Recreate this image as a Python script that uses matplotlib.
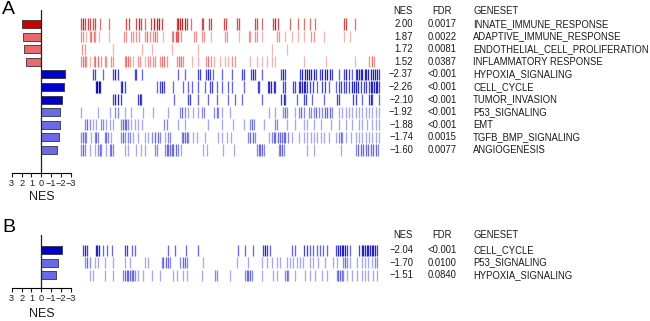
import matplotlib
matplotlib.use('Agg')
import matplotlib.pyplot as plt
import numpy as np

plt.rcParams.update({
    'font.family': ['Liberation Sans', 'DejaVu Sans'],
    'font.size': 6.85,
    'axes.unicode_minus': True,
})

W, H = 650, 321

# ── data: panel A ──
genesets_a = ['INNATE_IMMUNE_RESPONSE', 'ADAPTIVE_IMMUNE_RESPONSE',
              'ENDOTHELIAL_CELL_PROLIFERATION', 'INFLAMMATORY RESPONSE',
              'HYPOXIA_SIGNALING', 'CELL_CYCLE', 'TUMOR_INVASION',
              'P53_SIGNALING', 'EMT', 'TGFB_BMP_SIGNALING', 'ANGIOGENESIS']
nes_a = [2.00, 1.87, 1.72, 1.52, -2.37, -2.26, -2.10, -1.92, -1.88, -1.74, -1.60]
fdr_a = ['0.0017', '0.0022', '0.0081', '0.0387', '<0.001', '<0.001', '<0.001',
         '<0.001', '<0.001', '0.0015', '0.0077']
strong_a = [True, False, False, False, True, True, True, False, False, False, False]

# hit positions along the ranked list (same units as the barcode strip)
hits_a = [
    [81.3, 83, 84.7, 88, 89.7, 93, 95.3, 99.7, 109, 126.3, 128.7, 136.3, 138.7, 141.3, 144.7,
     151.3, 154, 156.7, 159, 161.7, 176.7, 178.3, 180, 182.3, 185, 186.7, 191, 201.7, 203.3,
     209.3, 211, 224.3, 225.7, 237, 238.7, 255.3, 257, 262, 272.7, 274.7, 277.7, 290.3, 298,
     303.7, 310.3, 314.7, 344, 345.7, 354.7],
    [81.3, 83, 86.3, 89.7, 91.3, 94, 95.3, 98.7, 108.7, 124, 126.3, 130.7, 133, 136.3, 138.7,
     144.7, 147.3, 149.7, 153, 154.7, 156.7, 163.3, 171.7, 173.3, 175.7, 176.7, 178.3, 181,
     194.3, 196, 202.3, 204.3, 211, 225, 226.7, 238.7, 248.7, 250.3, 255.3, 257, 262, 277,
     278.7, 285.3, 292, 298, 303.7, 311.3, 314, 324, 344, 349.7],
    [82, 84.7, 113, 141.7, 151.7, 171.7, 198.3, 271.5, 286.5],
    [81.3, 83, 84.7, 86.3, 89.7, 94, 95.3, 98, 100.7, 104.7, 106.3, 111.3, 113, 124.7, 126.3,
     128, 129.7, 133, 138, 139.7, 144.7, 148, 149.7, 153, 155.3, 160, 162.3, 164.3, 166.7,
     176.7, 179, 181, 183.3, 192.3, 198.3, 205.7, 208.3, 211, 214.3, 220, 225, 228.3, 232.3,
     235.3, 250.3, 257, 262, 267, 272, 275.3, 303.7, 325.7, 354.7, 369, 371.7, 374],
    [93, 94.7, 103, 113, 115.3, 118, 134.7, 136.3, 142.3, 177.7, 185, 198.3, 200, 205.7, 207.7,
     210, 213.3, 221.7, 232, 242, 243.7, 251.3, 252.7, 255.3, 262, 281.3, 282.7, 285.3, 300.3,
     302, 304.7, 307, 308.7, 311, 314, 316.3, 319.7, 322.3, 325, 327.3, 329.7, 331.7, 339, 344,
     346.3, 349, 352.3, 355.7, 357.3, 359, 360.7, 362.3, 365, 366.3, 368.3, 370.7, 373, 375,
     377.3, 379],
    [96.3, 97.3, 98.7, 99.7, 120.7, 122, 124.7, 156.7, 160, 162.3, 164.3, 173.3, 183.3, 188.3,
     192.3, 198.3, 205, 210, 212.3, 216.7, 221.7, 228.3, 232.3, 243.7, 258, 259.3, 268, 269.3,
     271.3, 273.7, 275.3, 282.7, 284.7, 292.7, 295.3, 298.7, 300.3, 302, 303.7, 305.3, 307,
     310.3, 313, 317.3, 322.3, 325, 329, 335.7, 339, 340.7, 344, 345.7, 349, 351.7, 354,
     355.7, 358.3, 360.7, 364, 365.7, 369, 370.7, 372.3, 374, 375.7, 377.3, 379],
    [113, 115.3, 118, 120.7, 138, 139.7, 141.3, 174.3, 188.3, 190, 197.7, 208.3, 216.7, 228.3,
     235.3, 242, 262, 281.3, 283.7, 285.3, 297, 303.7, 306, 312, 324, 337.3, 339, 353, 355.7,
     362.3, 369, 370.7, 372.3, 379],
    [81.3, 98, 109.7, 115.3, 118, 124.7, 131.3, 143, 153, 168.3, 180, 182.3, 185, 188.3, 193.3,
     198.3, 201.7, 204.3, 214.3, 216.7, 218.3, 221.7, 230, 268.7, 275.3, 282.7, 284.7, 287,
     295.3, 298.7, 301.3, 303.7, 308.7, 310.7, 314, 316.3, 319, 322.3, 325, 327.3, 329.7,
     332.3, 339, 342.3, 345.7, 349, 352.3, 355.7, 359, 362.3, 365.7, 369, 372.3, 375.7, 379],
    [84.7, 87.3, 89.7, 93, 96.3, 100.7, 103, 106.3, 109.7, 113, 120.7, 123, 124.7, 126.3, 128,
     131.3, 134.7, 138, 142, 164.3, 166.7, 178.3, 185, 208.3, 221.7, 233, 243.7, 250.3, 252,
     253.7, 263.7, 274.7, 277, 287, 295.3, 303.7, 307, 314, 320.7, 330.7, 339, 345.7, 352.3,
     359, 362.3, 367.3, 372.3, 375.7, 379],
    [81.3, 83, 84.7, 86.3, 91.3, 94.7, 96.3, 98, 104.7, 106.3, 108, 111.3, 121.3, 123, 124.7,
     128, 129.7, 133, 138, 144.7, 148, 152, 155, 157.7, 160, 165, 168.3, 170, 181.7, 183.3, 185,
     186.7, 188.3, 193.3, 196.7, 205, 218.3, 221.7, 226.7, 231, 248, 250.3, 252.7, 255.3,
     268.7, 272, 273.7, 275.3, 278, 280.3, 282, 283.7, 285.3, 288, 292, 298.7, 303.7, 307,
     310.7, 314, 317.3, 320.7, 324, 329, 335.7, 339, 340.7, 342.3, 345.7, 350.7, 355.7, 359,
     362.3, 365.7, 369, 372.3, 375.7, 379],
    [81.3, 83, 84.7, 89.7, 94.7, 98, 99.7, 101.3, 106.3, 109.7, 111.3, 113, 124.7, 128, 136.3,
     141.3, 144.7, 154.7, 156.7, 165, 166.7, 168.3, 170, 171.7, 173.3, 175.7, 177.7, 181,
     203.3, 206.7, 223.3, 233.7, 257, 258.7, 260.3, 262, 263.7, 278.7, 280.3, 282, 283.7, 307,
     314, 340.7, 355.7, 358.3, 360.7, 363, 365.7, 368.3, 370.7, 373, 375.7, 378.3],
]

# ── data: panel B ──
genesets_b = ['CELL_CYCLE', 'P53_SIGNALING', 'HYPOXIA_SIGNALING']
nes_b = [-2.04, -1.70, -1.51]
fdr_b = ['<0.001', '0.0100', '0.0840']
strong_b = [True, False, False]
hits_b = [
    [83.3, 85, 86.7, 96, 97.3, 99, 103.3, 107.3, 111.7, 125, 126.7, 131.7, 135, 168.3, 175,
     186, 198.3, 238.3, 245, 253.3, 262.7, 265, 266.7, 270, 291.7, 295, 304, 306.7, 310,
     313.3, 316.7, 320, 323.3, 326.7, 336, 338.3, 340, 341.7, 343.3, 345, 346.7, 350, 359.3,
     361.7, 363.3, 365, 366.7, 368.3, 370, 371.7, 373.3, 375, 376.7],
    [85, 87.3, 90, 95, 98.3, 105, 113.3, 125, 130, 145, 148.3, 161.7, 163.3, 166, 168.3, 170,
     180, 182.7, 185, 186.7, 202.7, 236.7, 248.3, 261.7, 266.7, 271.7, 276.7, 280, 286.7, 290,
     293.3, 296.7, 300, 303.3, 310, 313.3, 318.3, 325, 333.3, 336.7, 342.7, 345, 346.7, 350,
     356.7, 361.7, 365, 368.3, 371.7, 375, 376.7],
    [90, 93.3, 105, 113.3, 123.3, 125, 126.7, 128.3, 130, 131.7, 133.3, 135, 138.3, 143.3,
     151.7, 160, 173.3, 176.7, 183.3, 186.7, 201.7, 215, 216.7, 230, 245, 246.7, 248.3, 250,
     251.7, 261.7, 273.3, 276.7, 285, 286.7, 288.3, 295, 305, 310, 315, 321.7, 326.7, 336.7,
     338.3, 340, 341.7, 343.3, 346.7, 351.7, 356.7, 361.7, 365, 368.3, 373.3, 376.7],
]

TXT = '#1a1a1a'
BAR_COL = {('pos', True): '#cc0000', ('pos', False): '#e86a6a',
           ('neg', True): '#0000cc', ('neg', False): '#6a6ae6'}
TICK_COL = {('pos', True): ('#e07070', '#b00000'), ('pos', False): ('#f4b4b4', '#e05050'),
            ('neg', True): ('#6868e4', '#0000b0'), ('neg', False): ('#a8a8f0', '#4848d4')}

fig = plt.figure(figsize=(W / 100, H / 100), dpi=100)


def px_axes(l, t, r, b):
    return fig.add_axes([l / W, 1 - b / H, (r - l) / W, (b - t) / H])


def mix(c1, c2, t):
    a = np.array(matplotlib.colors.to_rgb(c1))
    b = np.array(matplotlib.colors.to_rgb(c2))
    return tuple(a * (1 - t) + b * t)


def bar_panel(top, bottom, ylim, nes, strong):
    ax = px_axes(11.7, top, 71, bottom)
    cols = [BAR_COL[('pos' if v > 0 else 'neg', s)] for v, s in zip(nes, strong)]
    ax.barh(range(len(nes)), nes, height=0.64, color=cols, edgecolor='#333333', lw=0.6)
    ax.axvline(0, color='#222222', lw=0.9)
    ax.set_xlim(3, -3)
    ax.set_ylim(*ylim)
    ax.set_xticks([3, 2, 1, 0, -1, -2, -3])
    ax.set_xticklabels(['3', '2', '1', '0', '\u22121', '\u22122', '\u22123'])
    ax.tick_params(axis='x', length=3, width=0.8, pad=1.5, labelsize=6.6, colors=TXT)
    ax.set_yticks([])
    for s in ['left', 'right', 'top']:
        ax.spines[s].set_visible(False)
    ax.spines['bottom'].set_linewidth(0.8)
    ax.patch.set_alpha(0)
    return ax


def barcode_panel(top, bottom, ylim, hits, nes, strong, fdr, names, head_y):
    ax = px_axes(80, top, 381, bottom)
    ax.set_xlim(80, 381)
    ax.set_ylim(*ylim)
    ax.axis('off')
    for i, (pos, v, s) in enumerate(zip(hits, nes, strong)):
        pos = np.asarray(pos, float)
        light, dark = TICK_COL[('pos' if v > 0 else 'neg', s)]
        # shade each hit by how crowded its neighbourhood is
        n = np.array([np.sum(np.abs(pos - p) < 3.2) - 1 for p in pos])
        cols = [mix(light, dark, min(k / 3.0, 1.0)) for k in n]
        ax.vlines(pos, i - 0.44, i + 0.44, colors=cols, lw=0.95)
        ax.text(413, i, f'{v:.2f}'.replace('-', '\u2212'), ha='right', va='center',
                color=TXT, clip_on=False)
        ax.text(442, i, fdr[i], ha='center', va='center', color=TXT, clip_on=False)
        ax.text(473, i, names[i], ha='left', va='center', color=TXT, clip_on=False)
    ax.text(403, head_y, 'NES', ha='center', va='center', color=TXT, clip_on=False)
    ax.text(442, head_y, 'FDR', ha='center', va='center', color=TXT, clip_on=False)
    ax.text(473, head_y, 'GENESET', ha='left', va='center', color=TXT, clip_on=False)
    return ax


# ── panel A ──
ylim_a = (11.8, -1.11)
bar_panel(10, 172.7, ylim_a, nes_a, strong_a)
barcode_panel(10, 172.7, ylim_a, hits_a, nes_a, strong_a, fdr_a, genesets_a, -1.06)
fig.text(41.5 / W, 1 - 197 / H, 'NES', ha='center', va='center', fontsize=9, color=TXT)
fig.text(2 / W, 1 - 9 / H, 'A', ha='left', va='center', fontsize=14, color='black')

# ── panel B ──
ylim_b = (3.04, -1.2)
bar_panel(235, 288, ylim_b, nes_b, strong_b)
barcode_panel(235, 288, ylim_b, hits_b, nes_b, strong_b, fdr_b, genesets_b, -1.18)
fig.text(41.5 / W, 1 - 314 / H, 'NES', ha='center', va='center', fontsize=9, color=TXT)
fig.text(2 / W, 1 - 227 / H, 'B', ha='left', va='center', fontsize=14, color='black')

fig.savefig('out.png', dpi=100)
